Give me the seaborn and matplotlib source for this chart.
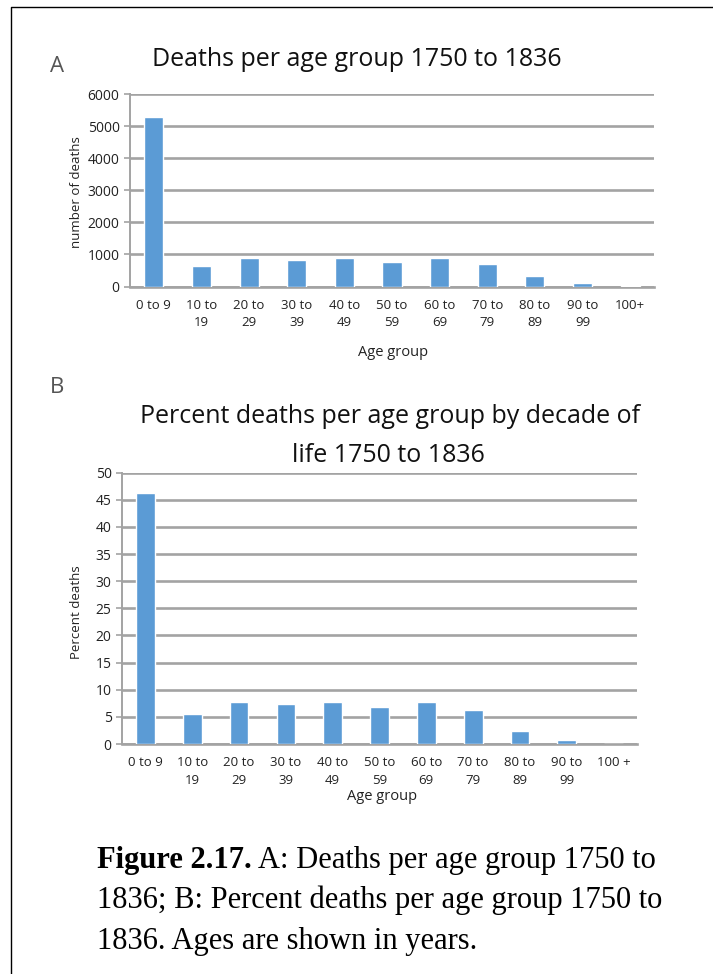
import pandas as pd
import seaborn as sns
import matplotlib
matplotlib.use("Agg")
import matplotlib.pyplot as plt
from matplotlib.lines import Line2D

# data
age_groups_a = ["0 to 9", "10 to\n19", "20 to\n29", "30 to\n39", "40 to\n49", "50 to\n59",
                "60 to\n69", "70 to\n79", "80 to\n89", "90 to\n99", "100+"]
age_groups_b = age_groups_a[:-1] + ["100 +"]
deaths = [5280, 650, 885, 835, 885, 775, 885, 705, 318, 95, 4]
percent_deaths = [46.3, 5.5, 7.8, 7.4, 7.8, 6.9, 7.8, 6.2, 2.4, 0.8, 0.04]

W, H = 713, 974
BAR = "#5B9BD5"
GRID = "#a3a3a3"
FONT = "Open Sans"


def px(x, y):
    return x / W, 1 - y / H


def set_style():
    sns.set_style("white")
    plt.rcParams.update({
        "font.family": [FONT, "DejaVu Sans"],
        "figure.dpi": 100,
        "savefig.dpi": 100,
    })


def box(x0, x1, y0, y1):
    l, r = x0 / W, x1 / W
    b, t = 1 - y1 / H, 1 - y0 / H
    return [l, b, r - l, t - b]


def draw_bars(ax, cats, vals, ymax, step):
    df = pd.DataFrame({"Age group": cats, "value": vals})
    sns.barplot(data=df, x="Age group", y="value", color=BAR, width=0.4,
                saturation=1, ax=ax, zorder=3)
    ax.set_ylim(0, ymax)
    ax.set_yticks(range(0, ymax + 1, step))
    ax.set_xlim(-0.5, len(cats) - 0.5)
    ax.yaxis.grid(True, color=GRID, linewidth=1.9, zorder=0)
    ax.set_axisbelow(True)
    for s in ["top", "right"]:
        ax.spines[s].set_visible(False)
    ax.spines["left"].set_color(GRID)
    ax.spines["left"].set_linewidth(1.4)
    ax.spines["bottom"].set_color(GRID)
    ax.spines["bottom"].set_linewidth(1.9)
    ax.tick_params(axis="y", direction="out", length=4.5, width=1.2, color=GRID,
                   labelsize=10, pad=3, left=True, labelcolor="#222222")
    ax.tick_params(axis="x", length=0, labelsize=9.5, pad=9, labelcolor="#222222")
    for t in ax.get_xticklabels():
        t.set_linespacing(1.45)
        t.set_va("top")
    ax.set_xlabel("")
    ax.set_ylabel("")


set_style()
fig = plt.figure(figsize=(W / 100, H / 100))

# frame around the figure panel
fig.add_artist(Line2D([11 / W, 11 / W, 1.0], [0.0, 1 - 7.3 / H, 1 - 7.3 / H],
                      transform=fig.transFigure, color="black", linewidth=1.0))

# panel A
ax1 = fig.add_axes(box(130, 654, 94, 286.5))
draw_bars(ax1, age_groups_a, deaths, 6000, 1000)
fig.text(*px(50, 72), "A", fontsize=16, color="#555555", ha="left", va="baseline")
fig.text(*px(357, 66), "Deaths per age group 1750 to 1836", fontsize=18,
         color="#111111", ha="center", va="baseline")
fig.text(*px(77, 192), "number of deaths", rotation=90, fontsize=9.5,
         color="#222222", ha="center", va="center")
fig.text(*px(393, 352), "Age group", fontsize=10.5, color="#222222", ha="center", va="center")

# panel B
ax2 = fig.add_axes(box(122, 637, 472.7, 744))
draw_bars(ax2, age_groups_b, percent_deaths, 50, 5)
fig.text(*px(50, 393), "B", fontsize=16, color="#555555", ha="left", va="baseline")
fig.text(*px(390, 423), "Percent deaths per age group by decade of", fontsize=18,
         color="#111111", ha="center", va="baseline")
fig.text(*px(388, 462), "life 1750 to 1836", fontsize=18,
         color="#111111", ha="center", va="baseline")
fig.text(*px(77, 612), "Percent deaths", rotation=90, fontsize=9.5,
         color="#222222", ha="center", va="center")
fig.text(*px(382, 797), "Age group", fontsize=10.5, color="#222222", ha="center", va="center")

# caption
cap = dict(family=["Liberation Serif", "DejaVu Serif"], fontsize=22, color="black",
           va="baseline", ha="left")
bold = fig.text(*px(97, 868), "Figure 2.17.", fontweight="bold", **cap)
fig.canvas.draw()
bb = bold.get_window_extent(renderer=fig.canvas.get_renderer())
fig.text(bb.x1 / W, 1 - 868 / H, " A: Deaths per age group 1750 to", **cap)
fig.text(*px(97, 908), "1836; B: Percent deaths per age group 1750 to", **cap)
fig.text(*px(97, 949), "1836. Ages are shown in years.", **cap)

fig.savefig("out.png", dpi=100)
